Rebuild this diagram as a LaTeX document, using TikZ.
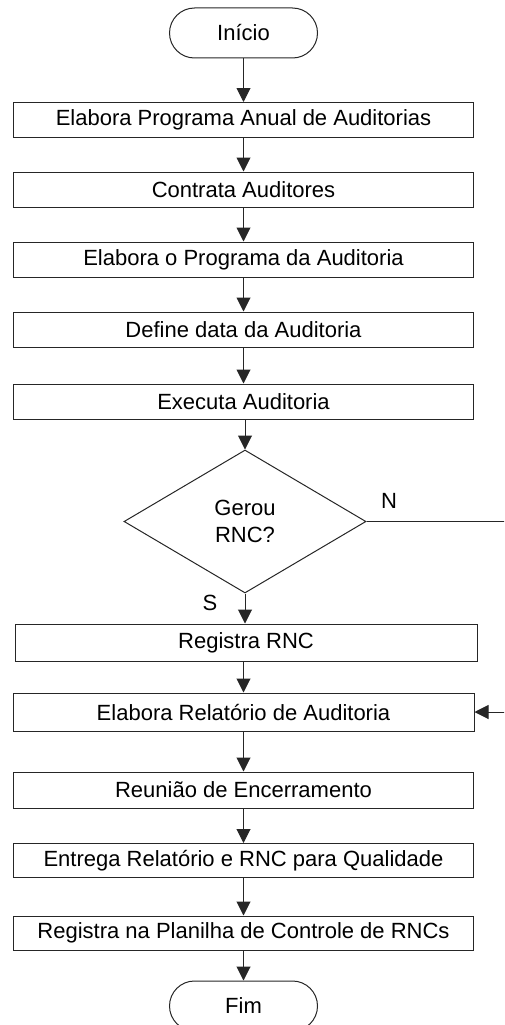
\documentclass[tikz,border=0pt]{standalone}
\usepackage{fontspec}
\setmainfont{Liberation Sans}
\usetikzlibrary{shapes.geometric,shapes.misc,arrows.meta}
\begin{document}
\begin{tikzpicture}[x=1pt,y=-1pt,
  every node/.style={font=\fontsize{22}{25}\selectfont, text=black},
  line/.style={draw=black!85, line width=1pt},
  stepbox/.style={line, rectangle, inner sep=0pt, minimum width=460pt, minimum height=35pt},
  term/.style={line, rounded rectangle, inner sep=0pt, minimum width=148pt, minimum height=50pt},
  decision/.style={line, diamond, inner sep=0pt, minimum width=242pt, minimum height=143pt, align=center},
  arr/.style={line, -{Triangle[length=14pt,width=14pt]}},
  lbl/.style={inner sep=0pt}]
\useasboundingbox (0,0) rectangle (504,1025);
\clip (0,0) rectangle (504,1025);

\node[term] (inicio) at (243.5,33) {Início};
\node[stepbox] (b1) at (243.5,120) {Elabora Programa Anual de Auditorias};
\node[stepbox] (b2) at (243.5,189.5) {Contrata Auditores};
\node[stepbox] (b3) at (243.5,259.5) {Elabora o Programa da Auditoria};
\node[stepbox] (b4) at (243.5,329.5) {Define data da Auditoria};
\node[stepbox] (b5) at (243.5,401.5) {Executa Auditoria};
\node[decision] (dec) at (245,521.5) {Gerou\\[2pt]RNC?};
\node[stepbox, minimum width=462pt, minimum height=37pt] (rnc) at (246,642.5) {Registra RNC};
\node[stepbox, minimum width=461pt, minimum height=38pt] (rel) at (243.5,712) {Elabora Relatório de Auditoria};
\node[stepbox, minimum height=36pt] (reu) at (243.5,790) {Reunião de Encerramento};
\node[stepbox, minimum height=34pt] (ent) at (243.5,860.5) {Entrega Relatório e RNC para Qualidade};
\node[stepbox, minimum height=34pt] (reg) at (243.5,933) {Registra na Planilha de Controle de RNCs};
\node[term] (fim) at (243.5,1006) {Fim};

\node[lbl] (n) at (389,501) {N};
\node[lbl] (s) at (210,603) {S};

\coordinate (volta) at (515,0);

\draw[arr] (inicio) -- (b1);
\draw[arr] (b1) -- (b2);
\draw[arr] (b2) -- (b3);
\draw[arr] (b3) -- (b4);
\draw[arr] (b4) -- (b5);
\draw[arr] (b5.south -| dec.north) -- (dec.north);
\draw[arr] (dec.south) -- (dec.south |- rnc.north);
\draw[arr] (rnc.south -| rel.north) -- (rel.north);
\draw[arr] (dec.east) -- (dec.east -| volta) -- (rel.east -| volta) -- (rel.east);
\draw[arr] (rel) -- (reu);
\draw[arr] (reu) -- (ent);
\draw[arr] (ent) -- (reg);
\draw[arr] (reg) -- (fim);
\end{tikzpicture}
\end{document}
